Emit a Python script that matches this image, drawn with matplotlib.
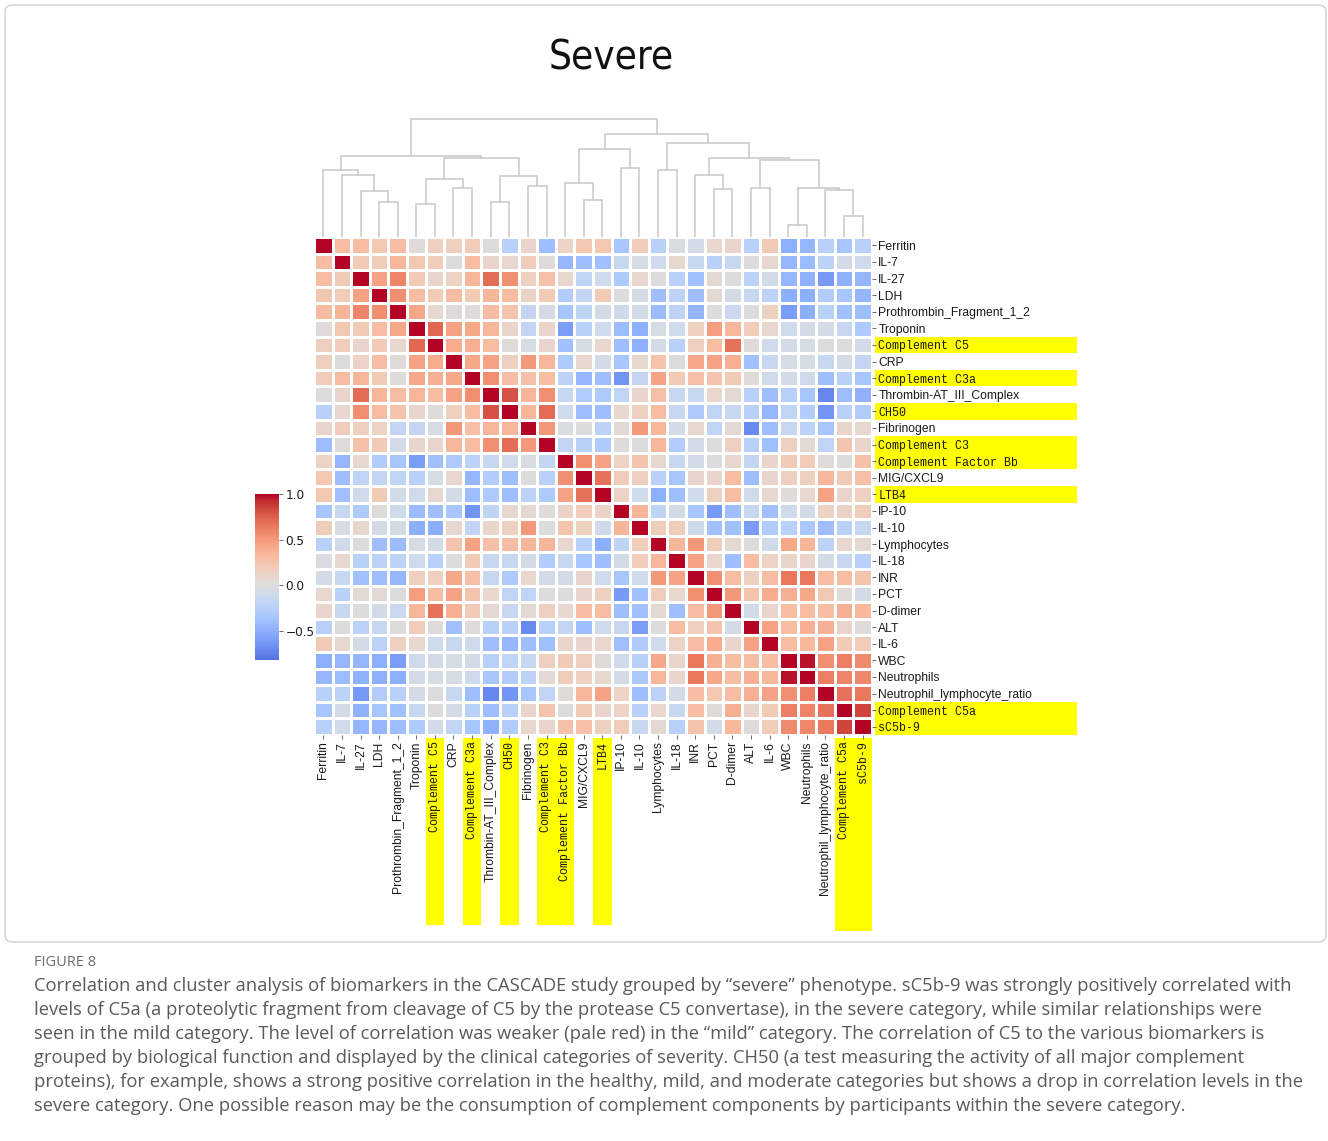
import numpy as np
import matplotlib
matplotlib.use("Agg")
import matplotlib.pyplot as plt
from matplotlib.colors import ListedColormap, Normalize
from matplotlib.patches import Rectangle, FancyBboxPatch
from matplotlib.cm import ScalarMappable

# ---------------------------------------------------------------- data
biomarkers = [
    "Ferritin", "IL-7", "IL-27", "LDH", "Prothrombin_Fragment_1_2", "Troponin",
    "Complement C5", "CRP", "Complement C3a", "Thrombin-AT_III_Complex", "CH50",
    "Fibrinogen", "Complement C3", "Complement Factor Bb", "MIG/CXCL9", "LTB4",
    "IP-10", "IL-10", "Lymphocytes", "IL-18", "INR", "PCT", "D-dimer", "ALT",
    "IL-6", "WBC", "Neutrophils", "Neutrophil_lymphocyte_ratio",
    "Complement C5a", "sC5b-9",
]

complement_markers = [
    "Complement C5", "Complement C3a", "CH50", "Complement C3",
    "Complement Factor Bb", "LTB4", "Complement C5a", "sC5b-9",
]

# upper triangle of the correlation matrix: row i holds r(i, j) for j > i
upper_corr = [
    [0.30, 0.30, 0.22, 0.30, 0.03, 0.15, 0.15, 0.18, 0.00, -0.25, 0.10, -0.40, 0.13, 0.22,
     0.22, -0.35, 0.18, -0.25, -0.03, -0.08, 0.08, 0.10, -0.25, 0.20, -0.50, -0.45, -0.25,
     -0.35, -0.25],
    [0.20, 0.17, 0.35, 0.22, 0.17, 0.00, 0.30, 0.10, 0.08, 0.18, 0.02, -0.45, -0.40, -0.38,
     -0.15, -0.05, -0.10, 0.07, -0.15, -0.25, -0.15, 0.00, 0.07, -0.45, -0.42, -0.22, -0.08,
     -0.10],
    [0.45, 0.60, 0.20, 0.10, 0.13, 0.35, 0.70, 0.55, 0.15, 0.27, 0.07, -0.20, -0.10, -0.30,
     0.08, 0.00, -0.25, -0.38, 0.05, 0.00, -0.22, -0.07, -0.45, -0.48, -0.62, -0.48, -0.45],
    [0.55, 0.30, 0.20, 0.30, 0.20, 0.35, 0.30, 0.12, 0.20, -0.28, -0.18, 0.20, 0.00, -0.06,
     -0.40, -0.22, -0.40, 0.05, -0.08, -0.15, -0.22, -0.50, -0.50, -0.28, -0.35, -0.45],
    [0.42, 0.08, 0.03, 0.02, 0.30, 0.25, -0.18, -0.06, -0.35, -0.20, -0.08, -0.10, -0.08,
     -0.42, -0.22, -0.45, 0.00, -0.13, 0.00, 0.15, -0.60, -0.50, -0.25, -0.38, -0.40],
    [0.72, 0.45, 0.42, 0.35, 0.10, -0.18, 0.10, -0.60, -0.25, -0.10, -0.42, -0.50, -0.05,
     -0.10, 0.15, 0.48, 0.35, 0.18, 0.08, -0.10, -0.06, -0.06, -0.15, -0.30],
    [0.40, 0.38, 0.30, 0.02, -0.05, 0.10, -0.38, -0.05, 0.08, -0.40, -0.50, -0.07, -0.25,
     0.15, 0.30, 0.68, 0.02, -0.10, -0.08, -0.05, 0.00, 0.00, -0.07],
    [0.42, 0.45, 0.15, 0.50, 0.35, -0.30, 0.08, -0.08, -0.35, 0.07, 0.25, 0.00, 0.42, 0.45,
     0.38, -0.38, -0.15, -0.05, -0.05, -0.15, -0.07, -0.18],
    [0.55, 0.30, 0.28, 0.30, -0.22, -0.45, -0.40, -0.65, -0.18, 0.45, 0.20, 0.28, 0.25, 0.20,
     0.02, -0.10, -0.08, -0.10, -0.40, -0.25, -0.35],
    [0.80, 0.35, 0.55, -0.15, -0.28, -0.30, -0.20, 0.10, 0.28, -0.15, -0.15, 0.08, 0.06,
     -0.25, -0.40, -0.25, -0.35, -0.72, -0.40, -0.48],
    [0.35, 0.70, -0.10, -0.40, -0.40, 0.08, 0.15, 0.30, -0.15, -0.30, -0.20, -0.15, -0.25,
     -0.45, -0.20, -0.28, -0.65, -0.25, -0.28],
    [0.50, -0.03, 0.00, -0.22, 0.06, 0.50, 0.35, -0.07, 0.08, -0.20, 0.05, -0.70, -0.40,
     -0.15, -0.22, -0.35, 0.10, 0.07],
    [-0.18, -0.25, -0.30, 0.02, 0.00, 0.35, -0.28, -0.06, 0.00, 0.15, -0.25, -0.38, 0.15,
     0.05, -0.20, 0.25, 0.10],
    [0.55, 0.45, 0.12, 0.25, 0.07, -0.15, -0.07, 0.00, 0.08, -0.18, 0.10, 0.20, 0.17, 0.02,
     0.00, 0.27],
    [0.68, 0.17, 0.15, -0.25, -0.35, 0.10, 0.10, 0.30, -0.40, 0.10, 0.15, 0.15, 0.35, 0.20,
     0.28],
    [0.13, -0.10, -0.50, -0.40, -0.10, 0.15, 0.30, -0.10, 0.08, 0.02, 0.07, 0.45, 0.10, 0.15],
    [0.35, -0.20, -0.07, -0.35, -0.62, -0.40, -0.15, -0.38, -0.10, -0.08, 0.13, 0.13, 0.17],
    [0.17, 0.17, -0.10, -0.38, -0.38, -0.60, -0.30, -0.25, -0.32, -0.40, -0.25, -0.15],
    [0.35, 0.50, 0.17, 0.05, 0.00, -0.10, 0.42, 0.35, -0.22, 0.08, 0.06],
    [0.45, 0.08, -0.40, 0.30, 0.13, 0.10, 0.10, -0.08, -0.15, -0.25],
    [0.55, 0.30, 0.15, 0.30, 0.65, 0.65, 0.30, 0.30, 0.25],
    [0.50, 0.25, 0.40, 0.38, 0.42, 0.22, 0.03, -0.07],
    [-0.08, 0.10, 0.30, 0.30, 0.30, 0.38, 0.33],
    [0.45, 0.30, 0.38, 0.38, 0.10, 0.02],
    [0.30, 0.33, 0.45, 0.20, 0.17],
    [0.97, 0.55, 0.62, 0.57],
    [0.62, 0.60, 0.58],
    [0.68, 0.65],
    [0.85],
]

# hierarchical clustering merges (scipy-style): child a, child b, linkage height
# ids 0..29 are leaves, id 30 + k is the cluster formed by merge k
merges = [
    (3, 4, 0.298), (2, 30, 0.393), (1, 31, 0.522), (0, 32, 0.570),
    (5, 6, 0.284), (7, 8, 0.416), (34, 35, 0.492), (9, 10, 0.298),
    (11, 12, 0.435), (37, 38, 0.520), (36, 39, 0.669), (33, 40, 0.688),
    (14, 15, 0.312), (13, 42, 0.458), (16, 17, 0.584), (43, 44, 0.750),
    (18, 19, 0.565), (21, 22, 0.407), (20, 47, 0.528), (23, 24, 0.416),
    (25, 26, 0.100), (28, 29, 0.177), (27, 51, 0.399), (50, 52, 0.416),
    (49, 53, 0.649), (48, 54, 0.669), (46, 55, 0.800), (45, 56, 0.874),
    (41, 57, 1.000),
]

caption_lines = [
    "Correlation and cluster analysis of biomarkers in the CASCADE study grouped by \u201csevere\u201d phenotype. sC5b-9 was strongly positively correlated with",
    "levels of C5a (a proteolytic fragment from cleavage of C5 by the protease C5 convertase), in the severe category, while similar relationships were",
    "seen in the mild category. The level of correlation was weaker (pale red) in the \u201cmild\u201d category. The correlation of C5 to the various biomarkers is",
    "grouped by biological function and displayed by the clinical categories of severity. CH50 (a test measuring the activity of all major complement",
    "proteins), for example, shows a strong positive correlation in the healthy, mild, and moderate categories but shows a drop in correlation levels in the",
    "severe category. One possible reason may be the consumption of complement components by participants within the severe category.",
]

# ---------------------------------------------------------------- matrix
n = len(biomarkers)
corr = np.eye(n)
for i, row in enumerate(upper_corr):
    for k, v in enumerate(row):
        j = i + 1 + k
        corr[i, j] = v
        corr[j, i] = v

# diverging map centred on zero, clipped to the displayed value range
vmin, vmax, center = -0.82, 1.0, 0.0
vrange = max(vmax - center, center - vmin)
lo, hi = Normalize(center - vrange, center + vrange)([vmin, vmax])
cmap = ListedColormap(plt.get_cmap("coolwarm")(np.linspace(lo, hi, 256)))
norm = Normalize(vmin, vmax)

# ---------------------------------------------------------------- layout
W, H = 1328, 1141
fig = plt.figure(figsize=(W / 100, H / 100), dpi=100)


def box(left, top, right, bottom):
    return [left / W, 1 - bottom / H, (right - left) / W, (bottom - top) / H]


# outer frame
fig.add_artist(FancyBboxPatch((5 / W, 1 - 942 / H), 1321 / W, 937 / H,
                              boxstyle="round,pad=0,rounding_size=0.006",
                              transform=fig.transFigure, facecolor="white",
                              edgecolor="#cfcfcf", linewidth=1.0, zorder=-5))

hm_left, hm_top, hm_right, hm_bottom = 314, 237, 872, 735
cell_w = (hm_right - hm_left) / n
cell_h = (hm_bottom - hm_top) / n

# heatmap
ax = fig.add_axes(box(hm_left, hm_top, hm_right, hm_bottom))
ax.pcolormesh(corr, cmap=cmap, norm=norm, edgecolors="white", linewidth=1.0)
ax.set_xlim(0, n)
ax.set_ylim(n, 0)
for s in ax.spines.values():
    s.set_visible(False)
ax.yaxis.tick_right()
ax.set_yticks(np.arange(n) + 0.5)
ax.set_yticklabels(biomarkers)
ax.set_xticks(np.arange(n) + 0.5)
ax.set_xticklabels(biomarkers, rotation=90)
ax.tick_params(axis="both", length=3, width=0.6, color="#555555", pad=1.5,
               labelsize=8.7, labelcolor="#1a1a1a")
for lbl in ax.get_yticklabels() + ax.get_xticklabels():
    if lbl.get_text() in complement_markers:
        lbl.set_fontfamily("Liberation Mono")
        lbl.set_fontsize(8.4)
    else:
        lbl.set_fontfamily("Liberation Sans")

# yellow highlight bands behind the complement markers
for name in complement_markers:
    idx = biomarkers.index(name)
    y0 = hm_top + idx * cell_h
    fig.add_artist(Rectangle(((hm_right + 3) / W, 1 - (y0 + cell_h) / H),
                             (1077 - hm_right - 3) / W, cell_h / H,
                             transform=fig.transFigure, facecolor="#ffff00",
                             edgecolor="none", zorder=-1))
    x0 = hm_left + idx * cell_w
    col_end = 931 if idx >= n - 2 else 925
    fig.add_artist(Rectangle((x0 / W, 1 - col_end / H), cell_w / W,
                             (col_end - hm_bottom - 3) / H,
                             transform=fig.transFigure, facecolor="#ffff00",
                             edgecolor="none", zorder=-1))

# column dendrogram
dax = fig.add_axes(box(hm_left, 112, hm_right, hm_top))
pos = {i: i + 0.5 for i in range(n)}
height = {i: 0.0 for i in range(n)}
for k, (a, b, h) in enumerate(merges):
    cid = n + k
    xa, xb = pos[a], pos[b]
    dax.plot([xa, xa, xb, xb], [height[a], h, h, height[b]],
             color="#c8c8c8", linewidth=1.1, solid_joinstyle="miter")
    pos[cid] = (xa + xb) / 2
    height[cid] = h
dax.set_xlim(0, n)
dax.set_ylim(0, 1.06)
dax.axis("off")

# colour bar
cax = fig.add_axes(box(255, 494, 279, 660))
cb = fig.colorbar(ScalarMappable(norm=norm, cmap=cmap), cax=cax,
                  ticks=[1.0, 0.5, 0.0, -0.5])
cb.outline.set_visible(False)
cax.tick_params(length=3, width=0.6, color="#555555", labelsize=8.7,
                labelcolor="#1a1a1a", pad=1.5)

# title
fig.text(611 / W, 1 - 58 / H, "Severe", ha="center", va="center",
         fontsize=29, family="DejaVu Sans", fontstretch="condensed",
         color="#111111")

# caption
fig.text(34 / W, 1 - 963 / H, "FIGURE 8", ha="left", va="center",
         fontsize=10.5, family=["Open Sans", "DejaVu Sans"], color="#6b6b6b")
for i, line in enumerate(caption_lines):
    fig.text(34 / W, 1 - (986 + 24 * i) / H, line, ha="left", va="center",
             fontsize=13.2, family=["Open Sans", "DejaVu Sans"], color="#5a5a5a")

fig.savefig("out.png", dpi=100, facecolor="white")
